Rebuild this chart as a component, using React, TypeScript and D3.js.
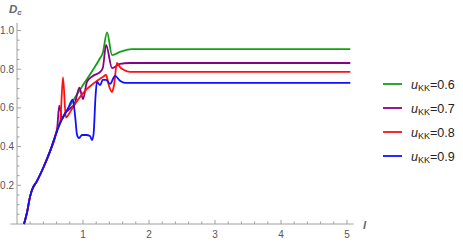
import React, { useEffect, useRef } from "react";
import * as d3 from "d3";

// shared rising part of every curve (l, D_c)
const commonPart: [number, number][] = [
  [0.106, 0], [0.15, 0.057], [0.197, 0.14], [0.227, 0.176], [0.3, 0.22],
  [0.4, 0.292], [0.5, 0.375], [0.59, 0.465],
];

const dcU06: [number, number][] = [
  [0.7, 0.555], [0.83, 0.627], [0.904, 0.667], [1.0, 0.718], [1.15, 0.796],
  [1.26, 0.858], [1.3, 0.884], [1.364, 0.99], [1.44, 0.873], [1.56, 0.889],
  [1.74, 0.904], [5.05, 0.904],
];

const dcU07: [number, number][] = [
  [0.61, 0.5], [0.64, 0.612], [0.686, 0.546], [0.727, 0.572], [0.8, 0.595],
  [0.88, 0.628], [0.945, 0.705], [1.0, 0.646], [1.06, 0.734], [1.15, 0.765],
  [1.26, 0.786], [1.3, 0.806], [1.35, 0.925], [1.44, 0.806], [1.56, 0.827],
  [1.71, 0.832], [5.05, 0.832],
];

const dcU08: [number, number][] = [
  [0.62, 0.5], [0.655, 0.53], [0.697, 0.757], [0.74, 0.55], [0.77, 0.56],
  [0.833, 0.595], [0.91, 0.636], [1.06, 0.698], [1.15, 0.724], [1.21, 0.739],
  [1.3, 0.76], [1.35, 0.77], [1.39, 0.718], [1.44, 0.682], [1.47, 0.718],
  [1.515, 0.832], [1.56, 0.811], [1.62, 0.796], [1.71, 0.786], [5.05, 0.786],
];

const dcU09: [number, number][] = [
  [0.65, 0.52], [0.72, 0.565], [0.77, 0.595], [0.845, 0.643], [0.88, 0.56],
  [0.91, 0.46], [0.94, 0.444], [0.985, 0.46], [1.05, 0.46], [1.106, 0.455],
  [1.136, 0.434], [1.16, 0.465], [1.19, 0.66], [1.21, 0.734], [1.26, 0.718],
  [1.3, 0.745], [1.35, 0.745], [1.41, 0.724], [1.485, 0.765], [1.56, 0.74],
  [1.64, 0.729], [5.05, 0.729],
];

const uValues = ["0.6", "0.7", "0.8", "0.9"];
const colors = ["#14a014", "#880088", "#ff1010", "#1010ff"];
const xTicks = [1, 2, 3, 4, 5];
const yTicks = [0.2, 0.4, 0.6, 0.8, 1.0];

const App = () => {
  const ref = useRef<SVGSVGElement>(null);

  useEffect(() => {
    const svg = d3.select(ref.current);
    svg.selectAll("*").remove();

    const x = d3.scaleLinear().domain([0, 5]).range([17, 347]);
    const y = d3.scaleLinear().domain([0, 1]).range([224, 30.5]);
    const axisColor = "#a0a0a0";
    const labelColor = "#555";

    // axes lines
    svg.append("line")
      .attr("x1", x(-0.1)).attr("x2", x(5.1))
      .attr("y1", y(0)).attr("y2", y(0))
      .attr("stroke", axisColor);
    svg.append("line")
      .attr("x1", x(0)).attr("x2", x(0))
      .attr("y1", y(0)).attr("y2", y(1.04))
      .attr("stroke", axisColor);

    // x ticks, mathematica style (inward)
    d3.range(0.2, 5.01, 0.2).forEach(v => {
      const major = Math.abs(v - Math.round(v)) < 1e-6;
      svg.append("line")
        .attr("x1", x(v)).attr("x2", x(v))
        .attr("y1", y(0)).attr("y2", y(0) - (major ? 4 : 2.5))
        .attr("stroke", axisColor);
    });
    svg.selectAll(".xl")
      .data(xTicks)
      .enter()
      .append("text")
      .attr("x", d => x(d))
      .attr("y", 238)
      .attr("text-anchor", "middle")
      .attr("font-size", 10)
      .attr("fill", labelColor)
      .text(d => d);

    d3.range(0.05, 1.01, 0.05).forEach(v => {
      const major = Math.abs(v * 5 - Math.round(v * 5)) < 1e-6;
      svg.append("line")
        .attr("x1", x(0)).attr("x2", x(0) + (major ? 4 : 2.5))
        .attr("y1", y(v)).attr("y2", y(v))
        .attr("stroke", axisColor);
    });
    svg.selectAll(".yl")
      .data(yTicks)
      .enter()
      .append("text")
      .attr("x", 14)
      .attr("y", d => y(d))
      .attr("dy", "0.35em")
      .attr("text-anchor", "end")
      .attr("font-size", 10)
      .attr("fill", labelColor)
      .text(d => d.toFixed(1));

    // axis labels
    const dLabel = svg.append("text")
      .attr("x", 9).attr("y", 13)
      .attr("font-size", 11.5)
      .attr("font-weight", "bold")
      .attr("font-style", "italic")
      .attr("fill", "#666");
    dLabel.append("tspan").text("D");
    dLabel.append("tspan").attr("font-size", 8).attr("dy", 2).text("c");

    svg.append("text")
      .attr("x", 363).attr("y", 229)
      .attr("font-size", 11.5)
      .attr("font-weight", "bold")
      .attr("font-style", "italic")
      .attr("fill", "#666")
      .text("l");

    const line = d3.line<[number, number]>()
      .x(d => x(d[0]))
      .y(d => y(d[1]))
      .curve(d3.curveMonotoneX);

    const series = [dcU06, dcU07, dcU08, dcU09];
    // green underneath, blue on top
    series.forEach((s, i) => {
      svg.append("path")
        .datum([...commonPart, ...s])
        .attr("d", line)
        .attr("fill", "none")
        .attr("stroke", colors[i])
        .attr("stroke-width", 1.8)
        .attr("stroke-linejoin", "round");
    });

    // legend
    uValues.forEach((u, i) => {
      const ly = 84 + i * 24;
      svg.append("line")
        .attr("x1", 383).attr("x2", 402)
        .attr("y1", ly).attr("y2", ly)
        .attr("stroke", colors[i])
        .attr("stroke-width", 1.8);
      const t = svg.append("text")
        .attr("x", 411).attr("y", ly + 4.5)
        .attr("font-size", 12.5)
        .attr("fill", "#222");
      t.append("tspan").attr("font-style", "italic").text("u");
      t.append("tspan").attr("font-size", 9).attr("dy", 2).text("KK");
      t.append("tspan").attr("dy", -2).text("=" + u);
    });
  }, []);

  return (
    <svg
      ref={ref}
      width={463}
      height={243}
      style={{ position: "absolute", left: 0, top: 0, fontFamily: "'Liberation Sans', Arial, sans-serif", background: "#fff" }}
    />
  );
};

export default App;
